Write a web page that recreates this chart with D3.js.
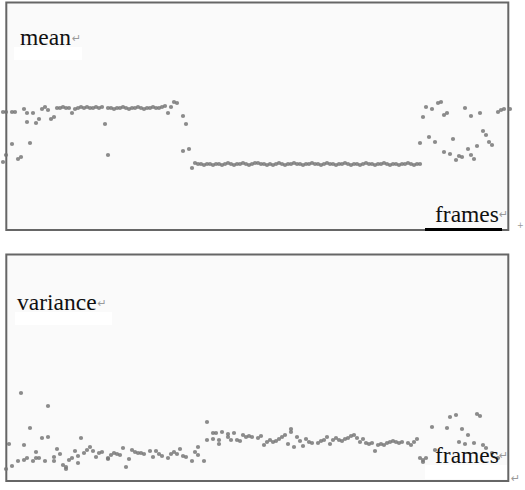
<!DOCTYPE html>
<meta charset="utf-8">
<style>

    body {
        margin: 0;
        background: #fff;
    }

    .panel {
        fill: #fafafa;
        stroke: #666;
        stroke-width: 2px;
    }

    .dot {
        fill: #777;
        fill-opacity: 0.85;
    }

    .label {
        font-size: 23.5px;
        fill: #111;
    }

    .mark {
        font-family: "DejaVu Sans", sans-serif;
        font-size: 11px;
        fill: #9a9a9a;
    }

</style>

<svg width="525" height="490"></svg>

<script src="https://cdn.jsdelivr.net/npm/d3@7/dist/d3.min.js"></script>
<script>

    // [frame, mean] pairs
    var meanPoints = [
        [0,119],[0,69],[1,76],[1,119],[3,119],[3,87],[4,119],[5,72],[6,74],[7,122],
        [8,109],[8,118],[9,88],[10,118],[11,108],[12,112],[13,122],[14,124],[15,121],[16,112],[17,114],
        [18,123],[19,123],[20,124],[21,123],[22,123],[23,118],[24,122],[25,123],[26,124],[27,123],
        [28,124],[29,123],[30,123],[31,124],[32,123],[33,124],
        [34,107],[35,76],
        [35,123],[36,123],[37,122],[38,123],[39,123],[40,124],[41,123],[42,122],[43,123],[44,123],
        [45,124],[46,123],[47,122],[48,123],[49,123],[50,124],[51,123],[52,123],[53,124],[54,125],[55,118],
        [56,124],[57,129],[58,128],[60,80],[60,115],[61,107],[62,82],[63,63],
        [64,68],[65,67],[66,67],[67,66],[68,67],[69,67],[70,66],[71,67],[72,67],[73,66],
        [74,67],[75,68],[76,67],[77,66],[78,67],[79,67],[80,68],[81,67],[82,66],[83,67],
        [84,68],[85,68],[86,67],[87,67],[88,66],[89,67],[90,66],[91,67],[92,68],[93,67],
        [94,66],[95,67],[96,67],[97,68],[98,67],[99,67],[100,66],[101,67],[102,67],[103,68],
        [104,67],[105,67],[106,66],[107,67],[108,68],[109,67],[110,67],[111,66],[112,67],[113,67],
        [114,68],[115,67],[116,66],[117,67],[118,67],[119,66],[120,67],[121,68],[122,67],[123,67],
        [124,66],[125,67],[126,67],[127,68],[128,67],[129,66],[130,67],[131,67],[132,66],[133,67],
        [134,67],[135,68],[136,67],[137,66],[138,67],[139,67],
        [139,88],[140,114],[141,124],[142,94],[143,122],[144,89],[145,128],[146,129],[147,79],[147,116],
        [148,118],[149,77],[150,92],[151,71],[152,75],[153,74],[154,123],[155,82],[156,76],[156,115],
        [157,72],[158,85],[159,118],[160,100],[161,96],[162,89],[163,86],[165,119],[166,121],[167,122],[169,122]
    ];

    // [frame, variance] pairs
    var variancePoints = [
        [6,88],[15,75],[9,53],[2,37],[7,36],[13,43],[15,44],[26,43],
        [1,12],[3,15],[5,20],[7,21],[8,23],[10,20],[11,23],[11,29],[12,23],[14,20],
        [17,20],[17,24],[18,32],[19,27],[20,16],[21,12],[21,14],[22,21],[23,23],[24,30],
        [25,25],[25,18],[27,28],[28,31],[29,34],[30,30],[31,24],[32,28],[33,29],[35,23],
        [35,22],[36,26],[37,28],[38,27],[39,26],[40,33],[41,14],[42,22],[43,31],[44,29],
        [45,28],[46,28],[47,27],[49,30],[50,24],[51,30],[52,27],[53,25],[55,23],[56,27],
        [57,29],[58,27],[59,32],[60,25],[61,24],[63,20],[64,29],[65,34],[65,26],[67,20],
        [68,59],[68,41],[70,48],[70,42],[71,48],[72,37],[72,41],[73,49],[75,44],[75,47],
        [76,41],[77,48],[78,41],[79,40],[80,46],[81,44],[82,45],[83,44],[85,43],[86,45],
        [87,36],[88,39],[89,41],[90,39],[91,40],[92,42],[93,44],[94,46],[95,37],[96,52],
        [96,49],[97,34],[98,44],[99,40],[100,35],[101,42],[102,39],[103,38],[105,38],[106,40],
        [107,41],[108,44],[109,37],[110,41],[111,43],[112,41],[113,40],[114,42],[115,43],[116,45],
        [117,46],[118,43],[119,39],[120,42],[121,38],[122,37],[123,38],[124,30],[125,36],[126,37],
        [127,36],[128,38],[129,39],[130,40],[131,39],[132,38],[133,39],[135,38],[136,36],[137,39],
        [138,42],[139,23],[140,21],[140,19],[141,23],[143,54],[144,31],[148,53],[149,64],[151,66],
        [152,39],[153,52],[154,37],[155,46],[157,38],[158,67],[159,65],[160,36],[161,33],[163,28],[165,23]
    ];

    var panelLabels = ["mean", "variance"],
        axisLabel = "frames";

    var serif = "'Liberation Serif', 'DejaVu Serif', serif";

    var svg = d3.select("svg");

    // frames run along both panels on the same scale
    var x = d3.scaleLinear().domain([0, 170]).range([3, 513]);

    var panels = [
        {label: panelLabels[0], points: meanPoints, top: 2.5, bottom: 230,
            y: d3.scaleLinear().domain([0, 228]).range([231, 3])},
        {label: panelLabels[1], points: variancePoints, top: 254.5, bottom: 481,
            y: d3.scaleLinear().domain([0, 227]).range([481, 254])}
    ];

    panels.forEach(function(p, i) {
        var g = svg.append("g");

        g.append("rect")
            .attr("class", "panel")
            .attr("x", 6.3)
            .attr("y", p.top)
            .attr("width", 502)
            .attr("height", p.bottom - p.top);

        // white strip under the panel title (text box background)
        g.append("rect")
            .attr("x", i == 0 ? 14 : 15)
            .attr("y", i == 0 ? 47 : 312)
            .attr("width", i == 0 ? 68 : 97)
            .attr("height", 13)
            .attr("fill", "#fff");

        g.selectAll(".dot")
            .data(p.points)
            .enter().append("circle")
            .attr("class", "dot")
            .attr("cx", function(d) { return x(d[0]); })
            .attr("cy", function(d) { return p.y(d[1]); })
            .attr("r", 2.1);

        // title
        var tx = i == 0 ? 20 : 17,
            ty = i == 0 ? 45 : 310;
        var title = g.append("text")
            .attr("class", "label")
            .attr("font-family", serif)
            .attr("x", tx)
            .attr("y", ty)
            .text(p.label);
        var tw = title.node().getComputedTextLength();
        g.append("text")
            .attr("class", "mark")
            .attr("x", tx + tw + 1)
            .attr("y", ty - 3)
            .text("\u21b5");

        // "frames" label at the lower right
        if (i == 0) {
            g.append("line")
                .attr("x1", 425).attr("x2", 502)
                .attr("y1", 229.5).attr("y2", 229.5)
                .attr("stroke", "#000")
                .attr("stroke-width", 3);
        } else {
            g.append("rect")
                .attr("x", 425).attr("y", 465)
                .attr("width", 82).attr("height", 14)
                .attr("fill", "#fff");
        }
        var fy = i == 0 ? 221.5 : 463;
        var fl = g.append("text")
            .attr("class", "label")
            .attr("font-family", serif)
            .attr("x", 435)
            .attr("y", fy)
            .text(axisLabel);
        var fw = fl.node().getComputedTextLength();
        g.append("text")
            .attr("class", "mark")
            .attr("x", 435 + fw)
            .attr("y", fy - 4)
            .text("\u21b5");
    });

    // stray formatting marks outside the panels
    svg.append("text")
        .attr("class", "mark")
        .attr("x", 517).attr("y", 228)
        .style("font-size", "8px")
        .text("+");
    svg.append("text")
        .attr("class", "mark")
        .attr("x", 511).attr("y", 482)
        .text("\u21b5");

</script>
